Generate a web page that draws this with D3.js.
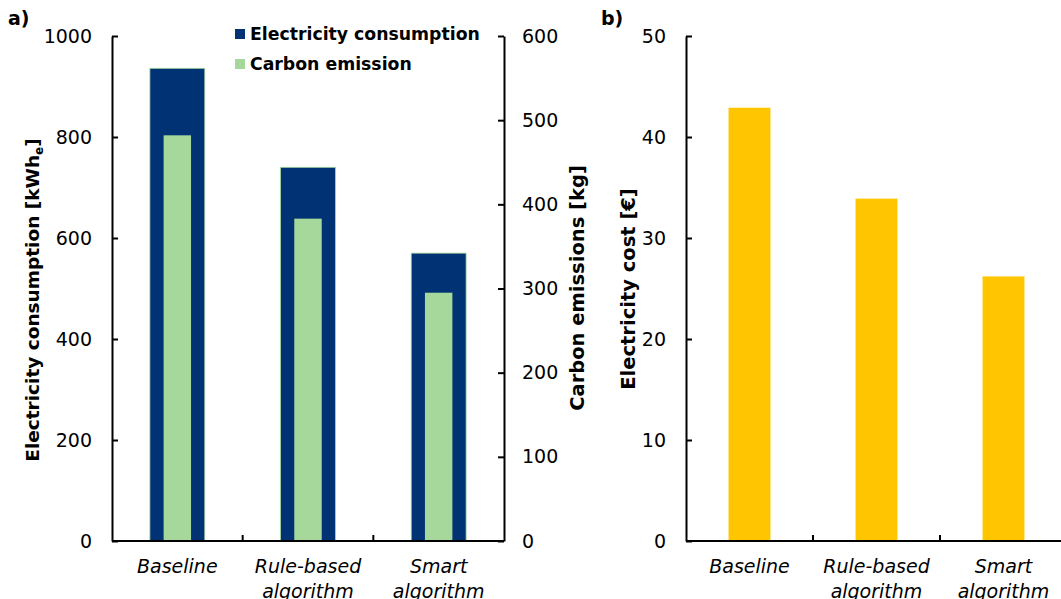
<!DOCTYPE html>
<html lang="en">
<head>
  <meta charset="UTF-8">
  <title>Electricity, carbon and cost</title>
  <script src="https://d3js.org/d3.v7.min.js"></script>
  <style>
    body { margin: 0; background: #fff; }
    text { font-family: "DejaVu Sans", Verdana, sans-serif; fill: #000; }
  </style>
</head>
<body>

  <script>
    ((window, document) => {
      "use strict";

      /**
       * -----------------------------------------------------------------------
       *  Data
       * -----------------------------------------------------------------------
       */
      const CATEGORIES = [["Baseline"], ["Rule-based", "algorithm"], ["Smart", "algorithm"]];
      const CONSUMPTION = [936, 740, 570];      // kWhe
      const EMISSIONS = [482, 383, 295];        // kg
      const COST = [42.9, 33.9, 26.2];          // €
      const LEFT_TICKS = [0, 200, 400, 600, 800, 1000];
      const RIGHT_TICKS = [0, 100, 200, 300, 400, 500, 600];
      const COST_TICKS = [0, 10, 20, 30, 40, 50];
      const LEGEND = ["Electricity consumption", "Carbon emission"];

      const NAVY = "#003274";
      const GREEN = "#a6d89b";
      const YELLOW = "#ffc600";

      /**
       * -----------------------------------------------------------------------
       *  Render
       * -----------------------------------------------------------------------
       */
      let svg = d3.select("body").append("svg")
          .attr("width", 1061)
          .attr("height", 599);

      let keys = CATEGORIES.map((c, i) => i);
      let bottom = 541;

      // panel a
      let xA = d3.scaleBand().domain(keys).range([112, 504]);
      let yA = d3.scaleLinear().domain([0, 1000]).range([bottom, 36]);
      let yA2 = d3.scaleLinear().domain([0, 600]).range([bottom, 36]);

      let wideW = xA.bandwidth() * 0.42;
      let thinW = xA.bandwidth() * 0.21;

      svg.append("g").selectAll("rect").data(CONSUMPTION).join("rect")
          .attr("x", (d, i) => xA(i) + xA.bandwidth() / 2 - wideW / 2)
          .attr("y", d => yA(d))
          .attr("width", wideW)
          .attr("height", d => bottom - yA(d))
          .attr("fill", NAVY)
          .attr("stroke", GREEN)
          .attr("stroke-width", 0.8);

      svg.append("g").selectAll("rect").data(EMISSIONS).join("rect")
          .attr("x", (d, i) => xA(i) + xA.bandwidth() / 2 - thinW / 2)
          .attr("y", d => yA2(d))
          .attr("width", thinW)
          .attr("height", d => bottom - yA2(d))
          .attr("fill", GREEN);

      // panel b
      let xB = d3.scaleBand().domain(keys).range([686, 1067]);
      let yB = d3.scaleLinear().domain([0, 50]).range([bottom, 36]);
      let costW = xB.bandwidth() * 0.33;

      svg.append("g").selectAll("rect").data(COST).join("rect")
          .attr("x", (d, i) => xB(i) + xB.bandwidth() / 2 - costW / 2)
          .attr("y", d => yB(d))
          .attr("width", costW)
          .attr("height", d => bottom - yB(d))
          .attr("fill", YELLOW);

      // axes
      drawYAxis(yA, LEFT_TICKS, 112, d3.axisRight, -20, "end");
      drawYAxis(yA2, RIGHT_TICKS, 504, d3.axisLeft, 18, "start");
      drawYAxis(yB, COST_TICKS, 686, d3.axisRight, -20, "end");
      drawXAxis(xA, 112, 504);
      drawXAxis(xB, 686, 1067);

      // legend
      let legend = svg.append("g").attr("transform", "translate(235, 34)");
      LEGEND.forEach((label, i) => {
        let row = legend.append("g").attr("transform", `translate(0, ${i * 30})`);
        row.append("rect")
            .attr("x", 0).attr("y", -5)
            .attr("width", 10).attr("height", 10)
            .attr("fill", i === 0 ? NAVY : GREEN);
        row.append("text")
            .attr("x", 15).attr("y", 6)
            .attr("font-size", 17.3)
            .attr("font-weight", "bold")
            .text(label);
      });

      // axis titles
      let t1 = svg.append("text")
          .attr("transform", "translate(39, 300) rotate(-90)")
          .attr("text-anchor", "middle")
          .attr("font-size", 18.5)
          .attr("font-weight", "bold");
      t1.append("tspan").text("Electricity consumption [kWh");
      t1.append("tspan").attr("font-size", 12).attr("dy", 4).text("e");
      t1.append("tspan").attr("dy", -4).text("]");

      svg.append("text")
          .attr("transform", "translate(584, 288) rotate(-90)")
          .attr("text-anchor", "middle")
          .attr("font-size", 19.5)
          .attr("font-weight", "bold")
          .text("Carbon emissions [kg]");

      svg.append("text")
          .attr("transform", "translate(635, 289) rotate(-90)")
          .attr("text-anchor", "middle")
          .attr("font-size", 19.5)
          .attr("font-weight", "bold")
          .text("Electricity cost [€]");

      // panel labels
      svg.append("text").attr("x", 8).attr("y", 25)
          .attr("font-size", 19).attr("font-weight", "bold").text("a)");
      svg.append("text").attr("x", 601).attr("y", 25)
          .attr("font-size", 19).attr("font-weight", "bold").text("b)");


      /**
       * -----------------------------------------------------------------------
       *  Function
       * -----------------------------------------------------------------------
       */

      /**
       * Vertical axis with inward ticks
       */
      function drawYAxis (scale, ticks, x, axisFn, labelDx, anchor) {
        let g = svg.append("g")
            .attr("transform", `translate(${x}, 0)`)
            .call(axisFn(scale).tickValues(ticks).tickFormat(d3.format("d"))
                .tickSize(6).tickSizeOuter(0));
        g.select(".domain").attr("stroke", "#000").attr("stroke-width", 2);
        g.selectAll(".tick line").attr("stroke", "#000").attr("stroke-width", 2);
        g.selectAll(".tick text")
            .attr("x", labelDx)
            .attr("text-anchor", anchor)
            .attr("font-size", 19)
            .attr("font-family", "DejaVu Sans, Verdana, sans-serif")
            .attr("fill", "#000");
      }

      /**
       * Category axis: ticks between bands, two-line italic labels
       */
      function drawXAxis (scale, x0, x1) {
        let g = svg.append("g");
        g.append("line")
            .attr("x1", x0).attr("x2", x1)
            .attr("y1", bottom).attr("y2", bottom)
            .attr("stroke", "#000").attr("stroke-width", 2);
        g.selectAll("line.tick").data(scale.domain().slice(1)).join("line")
            .attr("class", "tick")
            .attr("x1", d => scale(d)).attr("x2", d => scale(d))
            .attr("y1", bottom).attr("y2", bottom - 6)
            .attr("stroke", "#000").attr("stroke-width", 2);
        g.selectAll("text").data(scale.domain()).join("text")
            .attr("x", d => scale(d) + scale.bandwidth() / 2)
            .attr("y", bottom + 32)
            .attr("text-anchor", "middle")
            .attr("font-size", 19)
            .attr("font-style", "italic")
            .each(function (d) {
              CATEGORIES[d].forEach((line, i) => {
                d3.select(this).append("tspan")
                    .attr("x", scale(d) + scale.bandwidth() / 2)
                    .attr("dy", i === 0 ? 0 : 25)
                    .text(line);
              });
            });
      }

    })(window, document);
  </script>

</body>
</html>
